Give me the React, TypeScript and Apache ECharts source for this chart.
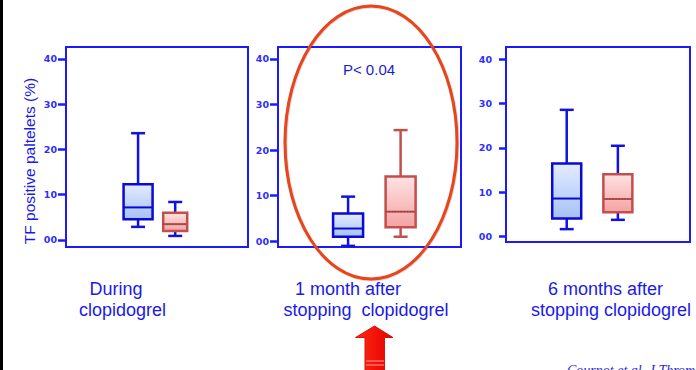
import React, { useEffect, useRef } from "react";
import * as echarts from "echarts";

// ---------- data ----------
const categoryLine1 = ["During", "1 month after", "6 months after"];
const categoryLine2 = ["clopidogrel", "stopping  clopidogrel", "stopping clopidogrel"];
const yTicks = [0, 10, 20, 30, 40];
const yTickLabels = ["00", "10", "20", "30", "40"];
// [lower whisker, Q1, median, Q3, upper whisker]
const duringBlue = [2.9, 4.6, 7.2, 12.3, 23.6];
const duringRed = [0.9, 2.0, 3.5, 6.0, 8.4];
const oneMonthBlue = [-1.0, 1.0, 2.8, 6.1, 9.8];
const oneMonthRed = [1.0, 3.1, 6.5, 14.2, 24.4];
const sixMonthBlue = [1.7, 4.1, 8.6, 16.5, 28.6];
const sixMonthRed = [3.8, 5.5, 8.5, 14.1, 20.5];
const pValueText = "P< 0.04";
const yAxisTitle = "TF positive paltelets (%)";
const citation = "Cournot et al. J Thromb Haemost";

const panelData = [
  [duringBlue, duringRed],
  [oneMonthBlue, oneMonthRed],
  [sixMonthBlue, sixMonthRed],
];

// ---------- layout / style ----------
const GRIDS = [
  { left: 66, top: 47, width: 182, height: 200, min: -1.55, max: 42.65, labelMargin: 9, tickLen: 8 },
  { left: 278, top: 47, width: 183, height: 200, min: -1.25, max: 42.63, labelMargin: 9, tickLen: 8 },
  { left: 506, top: 47, width: 184, height: 195, min: -1.2, max: 42.77, labelMargin: 14, tickLen: 7 },
];
const BOX_X = [[0.396, 0.6], [0.383, 0.67], [0.33, 0.608]];
const BOX_W = [[29, 24], [30, 30], [29, 29]];
// whisker colour: 0 blue, 1 red
const WHISKER_KIND = [[0, 0], [0, 1], [0, 0]];
const LINE1_X = [116, 348, 605.5];
const LINE2_X = [122.5, 366, 611];

const FRAME = "#1a1aff";
const BLUE_DARK = "#0a0ad2";
const BLUE_WHISK = "#1212e0";
const RED_BORDER = "#c24f4c";
const LABEL_BLUE = "#1a1ae6";

const blueFill = {
  type: "linear", x: 0, y: 0, x2: 0, y2: 1,
  colorStops: [{ offset: 0, color: "#e3ecff" }, { offset: 1, color: "#a6c1f6" }],
};
const redFill = {
  type: "linear", x: 0, y: 0, x2: 0, y2: 1,
  colorStops: [{ offset: 0, color: "#ffe3e3" }, { offset: 1, color: "#f4a2a2" }],
};

function renderBox(params: any, api: any) {
  const x = api.value(0);
  const kind = api.value(6);
  const wk = api.value(7);
  const w = api.value(8);
  const ys = [1, 2, 3, 4, 5].map((i) => api.coord([x, api.value(i)])[1]);
  const cx = api.coord([x, 0])[0];
  const [yLow, yQ1, yMed, yQ3, yHigh] = ys;
  const border = kind === 0 ? BLUE_DARK : RED_BORDER;
  const wc = wk === 0 ? BLUE_WHISK : RED_BORDER;
  const cap = 7;
  const children: any[] = [
    { type: "line", shape: { x1: cx, y1: yQ3, x2: cx, y2: yHigh }, style: { stroke: wc, lineWidth: 2.5 } },
    { type: "line", shape: { x1: cx, y1: yQ1, x2: cx, y2: yLow }, style: { stroke: wc, lineWidth: 2.5 } },
    { type: "line", shape: { x1: cx - cap, y1: yHigh, x2: cx + cap, y2: yHigh }, style: { stroke: wc, lineWidth: 2.5 } },
    { type: "line", shape: { x1: cx - cap, y1: yLow, x2: cx + cap, y2: yLow }, style: { stroke: wc, lineWidth: 2.5 } },
    {
      type: "rect",
      shape: { x: cx - w / 2, y: yQ3, width: w, height: yQ1 - yQ3 },
      style: { fill: kind === 0 ? blueFill : redFill, stroke: border, lineWidth: 2.5 },
    },
    { type: "line", shape: { x1: cx - w / 2, y1: yMed, x2: cx + w / 2, y2: yMed }, style: { stroke: border, lineWidth: 2 } },
  ];
  if (kind === 1) {
    children.push({
      type: "line",
      shape: { x1: cx - w / 2, y1: yMed, x2: cx + w / 2, y2: yMed },
      style: { stroke: "#6a4a4a", lineWidth: 1.2, lineDash: [1.5, 1.5] },
    });
  }
  return { type: "group", children };
}

export default function App() {
  const ref = useRef<HTMLDivElement>(null);
  useEffect(() => {
    if (!ref.current) return;
    const chart = echarts.init(ref.current, null, { renderer: "svg" });

    const grid = GRIDS.map((g) => ({
      left: g.left, top: g.top, width: g.width, height: g.height,
      show: true, borderColor: FRAME, borderWidth: 2, backgroundColor: "transparent",
    }));
    const xAxis = GRIDS.map((_, i) => ({ gridIndex: i, type: "value", min: 0, max: 1, show: false }));
    const yAxis = GRIDS.map((g, i) => ({
      gridIndex: i, type: "value", min: g.min, max: g.max,
      axisLine: { show: false },
      splitLine: { show: false },
      axisTick: { show: true, customValues: yTicks, length: g.tickLen, lineStyle: { color: FRAME, width: 2.5 } },
      axisLabel: {
        customValues: yTicks,
        formatter: (v: number) => yTickLabels[yTicks.indexOf(v)] ?? String(v),
        color: "#2f2fff", fontSize: 9.5, fontWeight: "bold", fontFamily: "DejaVu Sans", margin: g.labelMargin,
      },
    }));
    const series = panelData.map((pair, i) => ({
      type: "custom",
      xAxisIndex: i,
      yAxisIndex: i,
      renderItem: renderBox,
      encode: { x: 0, y: [1, 2, 3, 4, 5] },
      data: pair.map((vals, j) => [BOX_X[i][j], ...vals, j, WHISKER_KIND[i][j], BOX_W[i][j]]),
    }));

    const graphic: any[] = [
      { type: "rect", shape: { x: 0, y: 0, width: 3, height: 370 }, style: { fill: "#000" } },
      {
        type: "text", x: 29, y: 161, rotation: Math.PI / 2,
        style: { text: yAxisTitle, fill: LABEL_BLUE, font: "15.5px 'Liberation Sans', Arial, sans-serif", align: "center", verticalAlign: "middle" },
      },
      {
        type: "text", x: 369, y: 69,
        style: { text: pValueText, fill: "#1c1cd0", font: "15px 'Liberation Sans', Arial, sans-serif", align: "center", verticalAlign: "middle" },
      },
      {
        type: "ellipse", shape: { cx: 371, cy: 142.5, rx: 86, ry: 136.5 },
        style: { fill: "none", stroke: "#e8441c", lineWidth: 3, shadowColor: "rgba(60,0,0,0.3)", shadowBlur: 1, shadowOffsetX: 0.5, shadowOffsetY: 0.5 },
        z: 10,
      },
      {
        type: "polygon",
        shape: { points: [[374.5, 326], [393, 337.5], [384.5, 337.5], [384.5, 371], [365, 371], [365, 337.5], [355.5, 337.5]] },
        style: {
          fill: { type: "linear", x: 0, y: 0, x2: 1, y2: 0, colorStops: [{ offset: 0, color: "#ff2a10" }, { offset: 1, color: "#e40000" }] },
          stroke: "#d81010", lineWidth: 1,
        },
      },
      { type: "line", shape: { x1: 366, y1: 361, x2: 384, y2: 361 }, style: { stroke: "#ff9a9a", lineWidth: 1 } },
      { type: "line", shape: { x1: 366, y1: 365, x2: 384, y2: 365 }, style: { stroke: "#ff9a9a", lineWidth: 1 } },
      {
        type: "text", x: 567, y: 363,
        style: { text: citation, fill: "#2a2ad0", font: "italic 14px 'Liberation Serif', serif", align: "left", verticalAlign: "top" },
      },
    ];
    categoryLine1.forEach((t, i) => {
      graphic.push({
        type: "text", x: LINE1_X[i], y: 289,
        style: { text: t, fill: LABEL_BLUE, font: "18px 'Liberation Sans', Arial, sans-serif", align: "center", verticalAlign: "middle" },
      });
    });
    categoryLine2.forEach((t, i) => {
      graphic.push({
        type: "text", x: LINE2_X[i], y: 310,
        style: { text: t, fill: LABEL_BLUE, font: "18px 'Liberation Sans', Arial, sans-serif", align: "center", verticalAlign: "middle" },
      });
    });

    chart.setOption({
      animation: false,
      backgroundColor: "#ffffff",
      grid, xAxis, yAxis, series, graphic,
    } as any);
    return () => chart.dispose();
  }, []);
  return <div ref={ref} style={{ position: "fixed", left: 0, top: 0, width: 696, height: 370 }} />;
}
